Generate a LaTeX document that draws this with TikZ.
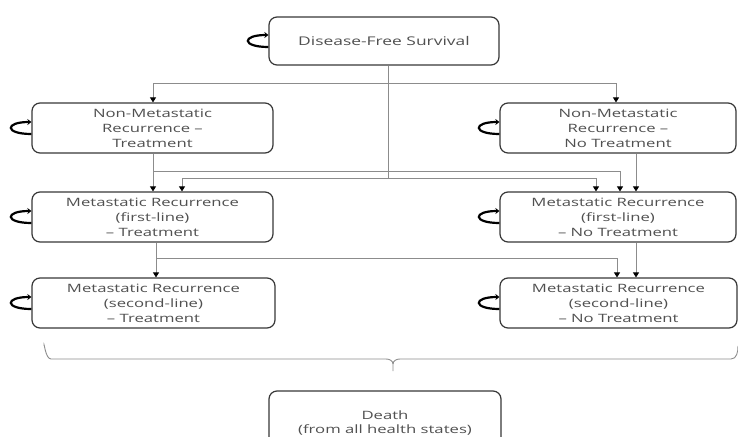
\documentclass[tikz,border=0pt]{standalone}
\usepackage{fontspec}
\setmainfont{Open Sans}[FakeStretch=1.45]
\usetikzlibrary{arrows.meta,calc}
\definecolor{txt}{HTML}{505050}
\definecolor{bord}{HTML}{383838}
\definecolor{conn}{HTML}{8C8C8C}
\begin{document}
\begin{tikzpicture}[x=1pt,y=-1pt,
  state/.style={draw=bord, line width=1.2pt, rounded corners=8pt, text=txt,
    align=center, inner sep=0pt, font=\fontsize{11.5}{15}\selectfont},
  conn/.style={draw=conn, line width=0.9pt},
  arr/.style={conn, -{Triangle[width=6pt,length=5pt,color=black]}},
  selfloop/.style={draw=black, line width=2.2pt, -{Stealth[length=4pt,width=6pt]}},
  bracestyle/.style={draw=conn, line width=0.9pt}
]
\clip (0,0) rectangle (738,436);
\fill[white] (0,0) rectangle (738,436);

% states
\node[state, minimum width=230pt, minimum height=48pt, font=\fontsize{12}{15}\selectfont] (dfs) at (384,41) {Disease-Free Survival};
\node[state, minimum width=241pt, minimum height=50pt] (nmrt) at (152.5,128) {Non-Metastatic\\Recurrence –\\Treatment};
\node[state, minimum width=236pt, minimum height=50pt] (nmrnt) at (618,128) {Non-Metastatic\\Recurrence –\\No Treatment};
\node[state, minimum width=241pt, minimum height=50pt] (mr1t) at (152.5,217) {Metastatic Recurrence\\(first-line)\\– Treatment};
\node[state, minimum width=236pt, minimum height=50pt] (mr1nt) at (618,217) {Metastatic Recurrence\\(first-line)\\– No Treatment};
\node[state, minimum width=243pt, minimum height=50pt] (mr2t) at (153.5,303) {Metastatic Recurrence\\(second-line)\\– Treatment};
\node[state, minimum width=237pt, minimum height=50pt] (mr2nt) at (618.5,303) {Metastatic Recurrence\\(second-line)\\– No Treatment};
\node[state, minimum width=232pt, minimum height=64pt, font=\fontsize{11.5}{14}\selectfont] (death) at (385,423) {Death\\(from all health states)};

% self loops
\foreach \n in {dfs,nmrt,nmrnt,mr1t,mr1nt,mr2t,mr2nt}{
  \draw[selfloop] ([yshift=-6pt]\n.west) .. controls +(-27,0) and +(-27,0) .. ([yshift=6pt]\n.west);
}

% junction coordinates
\coordinate (j1) at (388,83);
\coordinate (j2) at (388,178);
\coordinate (b1) at (153,171);
\coordinate (b2) at (156,258);

% from disease-free survival
\draw[conn] ([xshift=4pt]dfs.south) -- (j2);
\draw[arr] (j1) -| ([xshift=0.5pt]nmrt.north);
\draw[arr] (j1) -| ([xshift=-2pt]nmrnt.north);
\draw[arr] (j2) -| ([xshift=29.5pt]mr1t.north);
\draw[arr] (j2) -| ([xshift=-22pt]mr1nt.north);

% from non-metastatic recurrence
\draw[arr] ([xshift=0.5pt]nmrt.south) -- ([xshift=0.5pt]mr1t.north);
\draw[arr] (b1) -| ([xshift=2pt]mr1nt.north);
\draw[arr] ([xshift=18pt]nmrnt.south) -- ([xshift=18pt]mr1nt.north);

% from first-line metastatic recurrence
\draw[arr] ([xshift=3.5pt]mr1t.south) -- ([xshift=2.5pt]mr2t.north);
\draw[arr] (b2) -| ([xshift=-1.5pt]mr2nt.north);
\draw[arr] ([xshift=18pt]mr1nt.south) -- ([xshift=17.5pt]mr2nt.north);

% brace towards death
\draw[bracestyle] (44,346) to[out=90,in=180] (51,359) -- (386,359) to[out=0,in=90] (393,364) -- (393,371);
\draw[bracestyle] (393,364) to[out=90,in=180] (400,359) -- (731,359) to[out=0,in=-90] (738,346);
\end{tikzpicture}
\end{document}
